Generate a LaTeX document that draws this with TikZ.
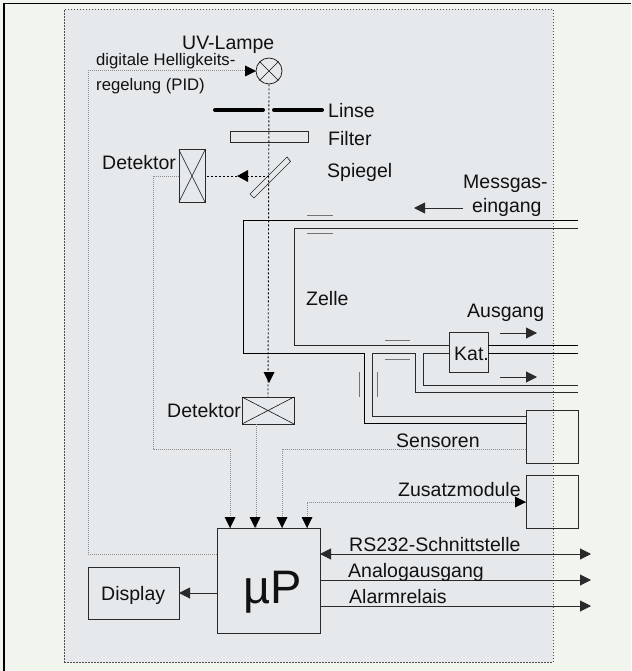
\documentclass[tikz,border=0pt]{standalone}
\usepackage{fontspec}
\setmainfont{Liberation Sans}
\usetikzlibrary{arrows.meta,calc}
\definecolor{outerbg}{HTML}{F2F4EE}
\definecolor{panelbg}{HTML}{E6E9EC}
\definecolor{ink}{HTML}{111111}
\definecolor{pipe}{HTML}{2A2A2A}
\definecolor{dotgrey}{HTML}{8C8C8C}
\tikzset{
  x=1pt,y=-1pt,
  lbl/.style={anchor=base west,inner sep=0pt,text=ink,font=\fontsize{19.5}{19.5}\selectfont},
  smalllbl/.style={lbl,font=\fontsize{16.7}{16.7}\selectfont},
  boxnode/.style={draw=pipe,line width=1pt,inner sep=0pt,outer sep=0pt},
  pipeline/.style={draw=pipe,line width=1pt},
  windowmark/.style={draw=gray!90!black,line width=1pt},
  sig/.style={draw=dotgrey,line width=1pt,dash pattern=on 1pt off 1pt},
  beam/.style={draw=black,line width=0.9pt,dash pattern=on 2pt off 2pt},
  tip/.style={-{Triangle[length=11pt,width=11pt]}},
  tipboth/.style={{Triangle[length=11pt,width=11pt]}-{Triangle[length=11pt,width=11pt]}},
  cross/.style={draw=ink,line width=0.6pt},
}
\begin{document}
\begin{tikzpicture}
\useasboundingbox (0,0) rectangle (631,671);
\fill[outerbg] (0,0) rectangle (631,671);
\draw[black,line width=1.2pt] (4,671) -- (4,3.5) -- (631,3.5);
% panel
\node[draw=black!70,fill=panelbg,line width=0.9pt,dash pattern=on 1.5pt off 1.5pt,minimum width=489pt,minimum height=653pt,inner sep=0pt,anchor=north west] (panel) at (64,9) {};

% lamp
\node[draw=ink,line width=0.7pt,circle,minimum size=26pt,inner sep=0pt] (lamp) at (269,71) {};
\draw[cross] (lamp.45) -- (lamp.225) (lamp.135) -- (lamp.315);
% lens, filter, mirror
\coordinate (lensA) at (215,110); \coordinate (lensB) at (263,110);
\coordinate (lensC) at (274,110); \coordinate (lensD) at (322,110);
\draw[black,line width=4pt,line cap=round] (lensA) -- (lensB) (lensC) -- (lensD);
\node[boxnode,minimum width=78pt,minimum height=10.5pt,anchor=north west] (filter) at (230,132) {};
\coordinate (mirA) at (287,157); \coordinate (mirB) at (290.5,161.5);
\coordinate (mirC) at (254,198); \coordinate (mirD) at (250,194);
\draw[pipeline,line width=0.7pt] (mirA) -- (mirB) -- (mirC) -- (mirD) -- cycle;
\coordinate (mirC0) at (269,176);

% detectors
\node[boxnode,minimum width=26pt,minimum height=52pt,anchor=north west] (det1) at (179,150) {};
\draw[cross] (det1.north west) -- (det1.south east) (det1.north east) -- (det1.south west);
\node[boxnode,minimum width=52pt,minimum height=27pt,anchor=north west] (det2) at (242,397) {};
\draw[cross] (det2.north west) -- (det2.south east) (det2.north east) -- (det2.south west);

% beam
\draw[beam] (lamp.south) -- (det2.north);
\draw[beam] (mirC0) -- (det1.east);
\coordinate (hA) at (248,176); \coordinate (hB) at (237,176);
\fill[black] (hA) ++(0,-6) -- (hB) -- ($(hA)+(0,6)$) -- cycle;
\fill[black] (263.5,372) -- (274.5,372) -- (269,383) -- cycle;

% processor, display
\node[boxnode,minimum width=103pt,minimum height=105pt,anchor=north west] (up) at (217,528) {};
\node[boxnode,minimum width=91pt,minimum height=52pt,anchor=north west] (display) at (88,567) {};
\node[boxnode,minimum width=52pt,minimum height=53pt,anchor=north west] (sensbox) at (526,410) {};
\node[boxnode,minimum width=52pt,minimum height=53pt,anchor=north west] (zusbox) at (526,475) {};
\node[boxnode,fill=panelbg,minimum width=39pt,minimum height=40pt,anchor=north west] (kat) at (449,332) {};

% dotted signals
\coordinate (inA) at (230,528); \coordinate (inB) at (255,528);
\coordinate (inC) at (282,528); \coordinate (inD) at (307,528);
\draw[sig] (det1.west) -- (153,176) -- (153,449) -- (230,449) -- (inA);
\draw[sig] (det2.south -| 256,0) -- (256,528);
\draw[sig] (sensbox.west |- 0,449) -- (282,449) -- (inC);
\draw[sig] (zusbox.west |- 0,502) -- (307,502) -- (inD);
\draw[sig] (up.west |- 0,554) -- (88,554) -- (88,71) -- (245,71);
\foreach \c in {inA,inB,inC,inD}{
  \fill[black] ($(\c)+(-5.5,-11)$) -- ($(\c)+(5.5,-11)$) -- (\c) -- cycle;
}
\fill[black] (245,65.5) -- (256,71) -- (245,76.5) -- cycle;
\fill[black] (515,496.5) -- (526,502) -- (515,507.5) -- cycle;

% pipes
\draw[pipeline,black] (578,220) -- (243,220) -- (243,353) -- (364,353) -- (364,423) -- (sensbox.west |- 0,423);
\draw[pipeline] (578,228) -- (294,228) -- (294,345) -- (kat.west |- 0,345);
\draw[pipeline,black] (kat.east |- 0,345) -- (578,345);
\draw[pipeline] (sensbox.west |- 0,416) -- (372,416) -- (372,353) -- (415,353) -- (415,392) -- (578,392);
\draw[pipeline] (kat.west |- 0,353) -- (423,353) -- (423,385) -- (578,385);
\draw[pipeline,black] (kat.east |- 0,353) -- (578,353);

% window marks
\draw[windowmark] (307,215) -- (333,215) (307,233) -- (333,233);
\draw[windowmark] (385,340) -- (410,340) (385,359) -- (410,359);
\draw[windowmark] (359,372) -- (359,397) (377,372) -- (377,397);

% flow arrows
\coordinate (mgA) at (463,208); \coordinate (mgB) at (414,208);
\draw[pipeline,tip] (mgA) -- (mgB);
\coordinate (ausA) at (500,333); \coordinate (ausB) at (537,333);
\draw[pipeline,tip] (ausA) -- (ausB);
\coordinate (ausC) at (500,377); \coordinate (ausD) at (537,377);
\draw[pipeline,tip] (ausC) -- (ausD);

% outputs
\coordinate (rsEnd) at (591,554); \coordinate (anEnd) at (591,580); \coordinate (alEnd) at (591,606);
\draw[pipeline,tipboth] (up.east |- rsEnd) -- (rsEnd);
\draw[pipeline,tip] (up.east |- anEnd) -- (anEnd);
\draw[pipeline,tip] (up.east |- alEnd) -- (alEnd);
\draw[pipeline,tip] (up.west |- 0,593) -- (display.east |- 0,593);

% labels
\node[lbl] (tUV) at (182,50) {UV-Lampe};
\node[smalllbl] (tDig) at (96,66) {digitale Helligkeits-};
\node[smalllbl] (tReg) at (96,91) {regelung (PID)};
\node[lbl] (tLinse) at (328,118) {Linse};
\node[lbl] (tFilter) at (328,146) {Filter};
\node[lbl] (tSpiegel) at (327,177) {Spiegel};
\node[lbl] (tDet1) at (102,170) {Detektor};
\node[lbl] (tMess) at (463,189) {Messgas-};
\node[lbl] (tEin) at (472,212) {eingang};
\node[lbl] (tZelle) at (306,305) {Zelle};
\node[lbl] (tAus) at (467,317) {Ausgang};
\node[lbl] (tKat) at (454,360) {Kat.};
\node[lbl] (tSens) at (396,447) {Sensoren};
\node[lbl] (tDet2) at (167,417) {Detektor};
\node[lbl] (tZus) at (398,496) {Zusatzmodule};
\node[lbl] (tRS) at (349,551) {RS232-Schnittstelle};
\node[lbl] (tAna) at (348,577) {Analogausgang};
\node[lbl] (tAla) at (349,603) {Alarmrelais};
\node[lbl] (tDisp) at (101,600) {Display};
\node[lbl,font=\fontsize{47}{47}\selectfont] (tUP) at (243,603) {µP};
\end{tikzpicture}
\end{document}
